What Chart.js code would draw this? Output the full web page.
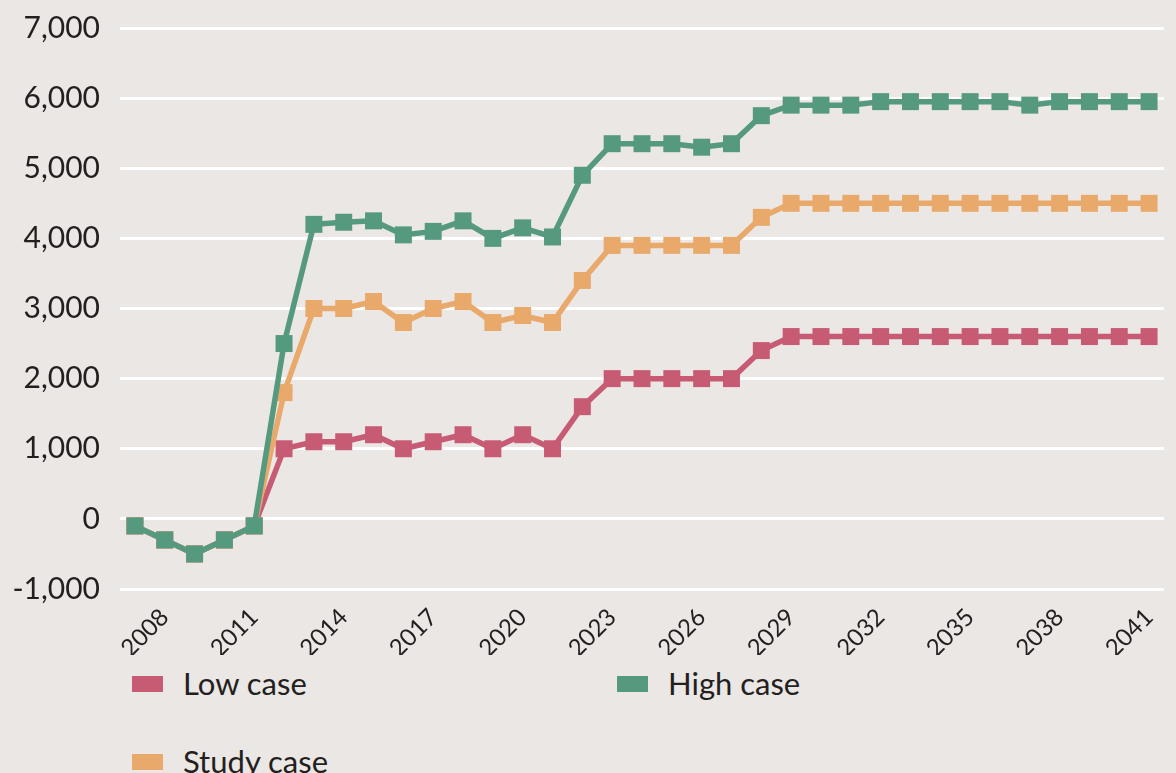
<!DOCTYPE html>
<html>
<head>
<meta charset="utf-8">
<script src="https://cdn.jsdelivr.net/npm/chart.js@4/dist/chart.umd.min.js"></script>
<style>
  body { margin: 0; background: #ebe7e4; font-family: Lato, sans-serif; }
  #wrap { position: relative; width: 1176px; height: 773px; overflow: hidden; }
  #chartBox { position: absolute; left: 0; top: -10px; width: 1176px; height: 665px; }
  .leg { position: absolute; font-size: 31px; color: #231f20; line-height: 36px; white-space: nowrap; }
  .leg span { display: inline-block; width: 31px; height: 16px; margin-right: 20px; vertical-align: 3px; }
</style>
</head>
<body>
<div id="wrap">
  <div id="chartBox"><canvas id="myChart"></canvas></div>
  <div class="leg" style="left:132px; top:665px;"><span style="background:#c75b74"></span>Low case</div>
  <div class="leg" style="left:617px; top:665px;"><span style="background:#55997f"></span>High case</div>
  <div class="leg" style="left:132px; top:743px;"><span style="background:#e8a96a"></span>Study case</div>
</div>
<script>
var years = [];
for (var y = 2007; y <= 2041; y++) years.push(String(y));

var lowCase = [-100, -300, -500, -300, -100,
  1000, 1100, 1100, 1200, 1000, 1100, 1200, 1000, 1200, 1000,
  1600, 2000, 2000, 2000, 2000, 2000, 2400,
  2600, 2600, 2600, 2600, 2600, 2600, 2600, 2600, 2600, 2600, 2600, 2600, 2600];

var studyCase = [-100, -300, -500, -300, -100,
  1800, 3000, 3000, 3100, 2800, 3000, 3100, 2800, 2900, 2800,
  3400, 3900, 3900, 3900, 3900, 3900, 4300,
  4500, 4500, 4500, 4500, 4500, 4500, 4500, 4500, 4500, 4500, 4500, 4500, 4500];

var highCase = [-100, -300, -500, -300, -100,
  2500, 4200, 4230, 4250, 4050, 4100, 4250, 4000, 4150, 4020,
  4900, 5350, 5350, 5350, 5300, 5350, 5750,
  5900, 5900, 5900, 5950, 5950, 5950, 5950, 5950, 5900, 5950, 5950, 5950, 5950];

var yTicks = [-1000, 0, 1000, 2000, 3000, 4000, 5000, 6000, 7000];

function line(label, data, color) {
  return {
    label: label,
    data: data,
    borderColor: color,
    backgroundColor: color,
    borderWidth: 5.5,
    pointStyle: 'rect',
    pointRadius: 12,
    pointHoverRadius: 12,
    pointBorderWidth: 0,
    tension: 0
  };
}

var ctx = document.getElementById('myChart').getContext('2d');
var chart = new Chart(ctx, {
  type: 'line',
  data: {
    labels: years,
    // first dataset is drawn on top
    datasets: [
      line('High case', highCase, '#55997f'),
      line('Study case', studyCase, '#e8a96a'),
      line('Low case', lowCase, '#c75b74')
    ]
  },
  options: {
    responsive: true,
    maintainAspectRatio: false,
    animation: false,
    layout: { padding: { top: 3, right: 0, left: 0, bottom: 0 } },
    plugins: { legend: { display: false }, tooltip: { enabled: false } },
    scales: {
      x: {
        offset: true,
        grid: { display: false },
        border: { display: false },
        ticks: {
          autoSkip: false,
          minRotation: 45,
          maxRotation: 45,
          padding: 6,
          color: '#231f20',
          font: { family: 'Lato', size: 24 },
          callback: function (v, i) { return (i - 1) % 3 === 0 ? years[i] : ''; }
        },
        afterFit: function (s) { s.height = 66; }
      },
      y: {
        min: -1000,
        max: 7000,
        afterBuildTicks: function (s) { s.ticks = yTicks.map(function (v) { return { value: v }; }); },
        grid: { color: '#ffffff', lineWidth: 3, drawTicks: false },
        border: { display: false },
        ticks: {
          padding: 20,
          color: '#231f20',
          font: { family: 'Lato', size: 30 },
          callback: function (v) { return v.toLocaleString('en-US'); }
        },
        afterFit: function (s) { s.width = 120; }
      }
    }
  }
});
</script>
</body>
</html>
